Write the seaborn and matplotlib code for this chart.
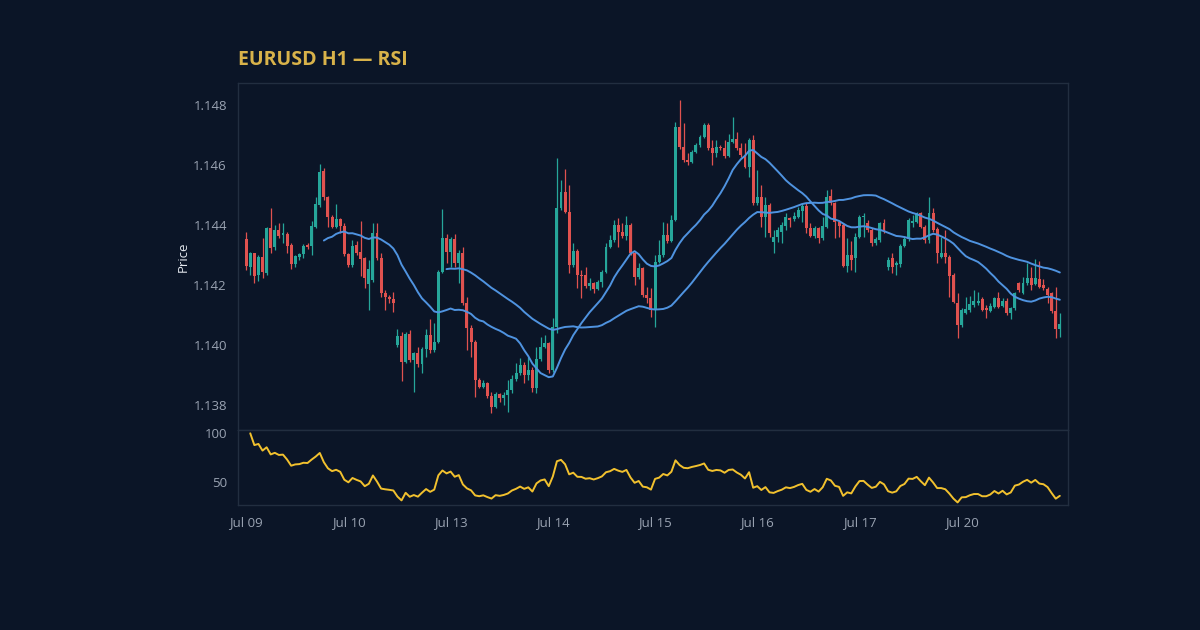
import numpy as np
import pandas as pd
import matplotlib
matplotlib.use("Agg")
import matplotlib.pyplot as plt
import seaborn as sns

# ---------------- data (EURUSD H1 candles) ----------------
opens = [
    1.14352, 1.14261, 1.14306, 1.14232, 1.14294, 1.14241, 1.14391, 1.14328, 1.14383, 1.14367,
    1.14370, 1.14333, 1.14270, 1.14292, 1.14302, 1.14334, 1.14330, 1.14394, 1.14467, 1.14581,
    1.14492, 1.14428, 1.14394, 1.14419, 1.14397, 1.14303, 1.14267, 1.14333, 1.14309, 1.14289,
    1.14203, 1.14217, 1.14372, 1.14289, 1.14174, 1.14161, 1.14152, 1.14000, 1.14030, 1.13944,
    1.14037, 1.13950, 1.13972, 1.13937, 1.13986, 1.14033, 1.13983, 1.14011, 1.14244, 1.14356,
    1.14311, 1.14352, 1.14272, 1.14306, 1.14141, 1.14056, 1.14011, 1.13883, 1.13861, 1.13874,
    1.13830, 1.13792, 1.13837, 1.13822, 1.13833, 1.13850, 1.13886, 1.13906, 1.13933, 1.13900,
    1.13917, 1.13856, 1.13952, 1.13992, 1.14006, 1.13917, 1.14061, 1.14456, 1.14511, 1.14444,
    1.14267, 1.14313, 1.14233, 1.14233, 1.14197, 1.14208, 1.14186, 1.14211, 1.14244, 1.14328,
    1.14350, 1.14400, 1.14378, 1.14363, 1.14400, 1.14306, 1.14228, 1.14256, 1.14167, 1.14156,
    1.14117, 1.14278, 1.14300, 1.14367, 1.14348, 1.14417, 1.14728, 1.14659, 1.14617, 1.14611,
    1.14644, 1.14667, 1.14694, 1.14733, 1.14656, 1.14641, 1.14661, 1.14656, 1.14630, 1.14678,
    1.14686, 1.14656, 1.14633, 1.14594, 1.14683, 1.14472, 1.14494, 1.14428, 1.14467, 1.14344,
    1.14361, 1.14378, 1.14397, 1.14424, 1.14419, 1.14426, 1.14448, 1.14463, 1.14389, 1.14363,
    1.14389, 1.14356, 1.14394, 1.14497, 1.14474, 1.14411, 1.14400, 1.14263, 1.14300, 1.14289,
    1.14359, 1.14428, 1.14408, 1.14383, 1.14339, 1.14350, 1.14408, 1.14259, 1.14289, 1.14267,
    1.14270, 1.14330, 1.14352, 1.14406, 1.14411, 1.14439, 1.14394, 1.14350, 1.14439, 1.14386,
    1.14294, 1.14308, 1.14294, 1.14233, 1.14141, 1.14067, 1.14108, 1.14117, 1.14133, 1.14139,
    1.14152, 1.14122, 1.14114, 1.14128, 1.14156, 1.14130, 1.14148, 1.14108, 1.14122, 1.14208,
    1.14172, 1.14206, 1.14222, 1.14203, 1.14219, 1.14200, 1.14186, 1.14172, 1.14114, 1.14052,
]
highs = [
    1.14378, 1.14311, 1.14308, 1.14300, 1.14356, 1.14394, 1.14456, 1.14400, 1.14408, 1.14406,
    1.14378, 1.14339, 1.14300, 1.14308, 1.14336, 1.14339, 1.14414, 1.14494, 1.14603, 1.14589,
    1.14497, 1.14433, 1.14469, 1.14422, 1.14406, 1.14308, 1.14350, 1.14348, 1.14414, 1.14294,
    1.14283, 1.14406, 1.14406, 1.14308, 1.14183, 1.14167, 1.14178, 1.14052, 1.14044, 1.14044,
    1.14050, 1.13978, 1.13994, 1.13994, 1.14052, 1.14086, 1.14072, 1.14250, 1.14452, 1.14370,
    1.14361, 1.14370, 1.14317, 1.14328, 1.14159, 1.14067, 1.14017, 1.13889, 1.13883, 1.13878,
    1.13844, 1.13844, 1.13839, 1.13844, 1.13883, 1.13900, 1.13939, 1.13956, 1.13944, 1.13961,
    1.13928, 1.13994, 1.14028, 1.14033, 1.14011, 1.14089, 1.14622, 1.14550, 1.14586, 1.14533,
    1.14339, 1.14319, 1.14250, 1.14261, 1.14222, 1.14211, 1.14217, 1.14250, 1.14339, 1.14367,
    1.14417, 1.14422, 1.14406, 1.14430, 1.14406, 1.14311, 1.14272, 1.14261, 1.14194, 1.14189,
    1.14300, 1.14350, 1.14411, 1.14406, 1.14433, 1.14744, 1.14817, 1.14739, 1.14639, 1.14650,
    1.14672, 1.14700, 1.14739, 1.14739, 1.14683, 1.14683, 1.14667, 1.14683, 1.14703, 1.14759,
    1.14711, 1.14672, 1.14672, 1.14689, 1.14700, 1.14583, 1.14533, 1.14492, 1.14472, 1.14383,
    1.14394, 1.14411, 1.14439, 1.14428, 1.14444, 1.14461, 1.14472, 1.14472, 1.14408, 1.14397,
    1.14394, 1.14428, 1.14517, 1.14519, 1.14478, 1.14417, 1.14406, 1.14356, 1.14348, 1.14372,
    1.14433, 1.14439, 1.14417, 1.14389, 1.14361, 1.14411, 1.14419, 1.14294, 1.14306, 1.14281,
    1.14337, 1.14361, 1.14422, 1.14433, 1.14444, 1.14444, 1.14400, 1.14492, 1.14456, 1.14394,
    1.14361, 1.14383, 1.14300, 1.14239, 1.14172, 1.14122, 1.14161, 1.14163, 1.14183, 1.14178,
    1.14161, 1.14133, 1.14139, 1.14161, 1.14178, 1.14156, 1.14156, 1.14128, 1.14178, 1.14211,
    1.14228, 1.14272, 1.14259, 1.14286, 1.14281, 1.14219, 1.14194, 1.14178, 1.14194, 1.14108,
]
lows = [
    1.14250, 1.14233, 1.14208, 1.14214, 1.14222, 1.14233, 1.14308, 1.14317, 1.14356, 1.14339,
    1.14308, 1.14252, 1.14261, 1.14283, 1.14289, 1.14319, 1.14300, 1.14389, 1.14461, 1.14483,
    1.14394, 1.14389, 1.14389, 1.14372, 1.14297, 1.14261, 1.14261, 1.14300, 1.14230, 1.14189,
    1.14117, 1.14211, 1.14283, 1.14161, 1.14117, 1.14139, 1.14111, 1.13994, 1.13881, 1.13939,
    1.13944, 1.13844, 1.13928, 1.13906, 1.13961, 1.13972, 1.13978, 1.14006, 1.14239, 1.14272,
    1.14261, 1.14261, 1.14206, 1.14133, 1.13983, 1.13961, 1.13828, 1.13856, 1.13856, 1.13822,
    1.13772, 1.13789, 1.13811, 1.13800, 1.13778, 1.13839, 1.13881, 1.13900, 1.13872, 1.13883,
    1.13844, 1.13839, 1.13948, 1.13989, 1.13906, 1.13911, 1.14039, 1.14450, 1.14439, 1.14239,
    1.14261, 1.14189, 1.14156, 1.14189, 1.14183, 1.14172, 1.14183, 1.14194, 1.14239, 1.14322,
    1.14344, 1.14328, 1.14356, 1.14350, 1.14300, 1.14200, 1.14220, 1.14161, 1.14139, 1.14094,
    1.14059, 1.14272, 1.14294, 1.14339, 1.14344, 1.14414, 1.14652, 1.14611, 1.14600, 1.14606,
    1.14639, 1.14661, 1.14689, 1.14650, 1.14600, 1.14628, 1.14650, 1.14622, 1.14628, 1.14672,
    1.14650, 1.14628, 1.14589, 1.14559, 1.14467, 1.14467, 1.14394, 1.14361, 1.14361, 1.14306,
    1.14344, 1.14339, 1.14383, 1.14394, 1.14414, 1.14422, 1.14411, 1.14372, 1.14361, 1.14356,
    1.14341, 1.14350, 1.14389, 1.14467, 1.14356, 1.14361, 1.14259, 1.14244, 1.14250, 1.14244,
    1.14356, 1.14361, 1.14378, 1.14330, 1.14333, 1.14344, 1.14372, 1.14250, 1.14241, 1.14233,
    1.14261, 1.14326, 1.14348, 1.14394, 1.14406, 1.14389, 1.14339, 1.14339, 1.14378, 1.14272,
    1.14289, 1.14274, 1.14161, 1.14139, 1.14022, 1.14061, 1.14103, 1.14111, 1.14128, 1.14133,
    1.14114, 1.14089, 1.14111, 1.14122, 1.14122, 1.14126, 1.14100, 1.14086, 1.14117, 1.14178,
    1.14170, 1.14200, 1.14183, 1.14200, 1.14189, 1.14183, 1.14139, 1.14108, 1.14022, 1.14028,
]
closes = [
    1.14263, 1.14306, 1.14230, 1.14294, 1.14244, 1.14389, 1.14324, 1.14383, 1.14363, 1.14374,
    1.14330, 1.14270, 1.14297, 1.14303, 1.14330, 1.14328, 1.14397, 1.14470, 1.14578, 1.14492,
    1.14426, 1.14394, 1.14419, 1.14397, 1.14302, 1.14267, 1.14330, 1.14306, 1.14286, 1.14222,
    1.14252, 1.14372, 1.14289, 1.14174, 1.14161, 1.14152, 1.14141, 1.14030, 1.13944, 1.14037,
    1.13950, 1.13972, 1.13937, 1.13986, 1.14033, 1.13983, 1.14011, 1.14244, 1.14356, 1.14311,
    1.14352, 1.14272, 1.14306, 1.14141, 1.14056, 1.14011, 1.13883, 1.13861, 1.13874, 1.13830,
    1.13792, 1.13837, 1.13822, 1.13833, 1.13850, 1.13886, 1.13906, 1.13933, 1.13900, 1.13917,
    1.13856, 1.13952, 1.13992, 1.14006, 1.13917, 1.14061, 1.14456, 1.14511, 1.14444, 1.14267,
    1.14313, 1.14233, 1.14231, 1.14197, 1.14208, 1.14186, 1.14211, 1.14244, 1.14328, 1.14350,
    1.14400, 1.14378, 1.14363, 1.14400, 1.14306, 1.14228, 1.14256, 1.14167, 1.14156, 1.14117,
    1.14278, 1.14300, 1.14367, 1.14348, 1.14417, 1.14728, 1.14659, 1.14617, 1.14611, 1.14644,
    1.14667, 1.14694, 1.14733, 1.14656, 1.14641, 1.14661, 1.14656, 1.14630, 1.14678, 1.14686,
    1.14656, 1.14633, 1.14594, 1.14683, 1.14472, 1.14494, 1.14428, 1.14467, 1.14372, 1.14361,
    1.14383, 1.14400, 1.14428, 1.14417, 1.14430, 1.14450, 1.14463, 1.14389, 1.14363, 1.14389,
    1.14356, 1.14397, 1.14492, 1.14474, 1.14411, 1.14397, 1.14263, 1.14300, 1.14283, 1.14359,
    1.14428, 1.14430, 1.14383, 1.14339, 1.14352, 1.14408, 1.14378, 1.14283, 1.14261, 1.14274,
    1.14330, 1.14352, 1.14417, 1.14414, 1.14439, 1.14394, 1.14350, 1.14439, 1.14383, 1.14308,
    1.14308, 1.14292, 1.14230, 1.14144, 1.14067, 1.14117, 1.14119, 1.14137, 1.14148, 1.14148,
    1.14117, 1.14117, 1.14130, 1.14156, 1.14128, 1.14148, 1.14108, 1.14122, 1.14174, 1.14183,
    1.14206, 1.14222, 1.14200, 1.14222, 1.14194, 1.14189, 1.14167, 1.14114, 1.14052, 1.14070,
]
tick_labels = ["Jul 09", "Jul 10", "Jul 13", "Jul 14", "Jul 15", "Jul 16", "Jul 17", "Jul 20", ""]
price_ticks = [1.138, 1.140, 1.142, 1.144, 1.146, 1.148]
rsi_ticks = [50, 100]
ma_fast_len, ma_slow_len, rsi_len = 20, 50, 14
tick_every = 25

# ---------------- derived series ----------------
df = pd.DataFrame({"open": opens, "high": highs, "low": lows, "close": closes})
df["idx"] = np.arange(len(df))
df["ma_fast"] = df["close"].rolling(ma_fast_len).mean()
df["ma_slow"] = df["close"].rolling(ma_slow_len).mean()
delta = df["close"].diff()
gain = delta.clip(lower=0)
loss = (-delta).clip(lower=0)
avg_gain = gain.ewm(alpha=1 / rsi_len, adjust=False).mean()
avg_loss = loss.ewm(alpha=1 / rsi_len, adjust=False).mean()
rs = avg_gain / avg_loss
df["rsi"] = 100 - 100 / (1 + rs)

# ---------------- style ----------------
BG = "#0b1527"
FRAME = "#222e40"
TICK = "#9aa3b2"
UP = "#26a69a"
DOWN = "#e0524f"
MA_COL = "#4f93e0"
RSI_COL = "#f2c12e"
TITLE_COL = "#d8b24a"

sns.set_theme(style="dark")
plt.rcParams["font.family"] = ["Open Sans", "DejaVu Sans"]
plt.rcParams.update({
    "figure.facecolor": BG,
    "axes.facecolor": BG,
    "savefig.facecolor": BG,
    "axes.edgecolor": FRAME,
    "axes.linewidth": 1.0,
    "xtick.color": TICK,
    "ytick.color": TICK,
    "xtick.labelcolor": TICK,
    "ytick.labelcolor": TICK,
    "axes.grid": False,
})

fig = plt.figure(figsize=(12, 6.3), dpi=100)
L, R = 238 / 1200, 1068 / 1200
ax1 = fig.add_axes([L, 1 - 430 / 630, R - L, (430 - 83) / 630])
ax2 = fig.add_axes([L, 1 - 505 / 630, R - L, (505 - 430) / 630], sharex=ax1)

# candles
up = df["close"] >= df["open"]
colors = np.where(up, UP, DOWN)
body_lo = np.minimum(df["open"], df["close"])
body_hi = np.maximum(df["open"], df["close"])
body_h = np.maximum(body_hi - body_lo, 0.000015)
wick_lo = np.minimum(df["low"], body_lo)
wick_hi = np.maximum(df["high"], body_hi)
ax1.vlines(df["idx"], wick_lo, wick_hi, colors=colors, linewidth=0.9, zorder=2)
ax1.bar(df["idx"], body_h, bottom=body_lo, width=0.72, color=colors, linewidth=0, zorder=3)

# moving averages
sns.lineplot(data=df, x="idx", y="ma_slow", ax=ax1, color=MA_COL, linewidth=1.4, zorder=4)
sns.lineplot(data=df, x="idx", y="ma_fast", ax=ax1, color=MA_COL, linewidth=1.4, zorder=4)

# RSI
sns.lineplot(data=df, x="idx", y="rsi", ax=ax2, color=RSI_COL, linewidth=1.4)

# axes formatting
xt = np.arange(0, len(df) + 1, tick_every)
ax1.set_xlim(-2, 201)
ax1.set_ylim(1.13717, 1.14873)
ax1.set_yticks(price_ticks)
ax1.set_yticklabels([f"{v:.3f}" for v in price_ticks])
ax2.set_ylim(27, 103.4)
ax2.set_yticks(rsi_ticks)
ax2.set_xticks(xt)
ax2.set_xticklabels(tick_labels)
ax1.tick_params(axis="x", which="both", bottom=False, labelbottom=False)

for ax in (ax1, ax2):
    ax.set_xlabel("")
    ax.set_ylabel("")
    for s in ax.spines.values():
        s.set_color(FRAME)
        s.set_linewidth(1.0)
    ax.tick_params(axis="both", length=4, width=0.8, color=TICK, labelsize=9.5, pad=4)

ax1.set_ylabel("Price", color="#e4e8ee", fontsize=9.5)
ax1.yaxis.set_label_coords(-(238 - 190) / 830, 0.5)

fig.text(L, 1 - 60 / 630, "EURUSD H1 \u2014 RSI", ha="left", va="center",
         fontsize=14, fontweight="bold", color=TITLE_COL)

fig.savefig("out.png", dpi=100, facecolor=BG)
